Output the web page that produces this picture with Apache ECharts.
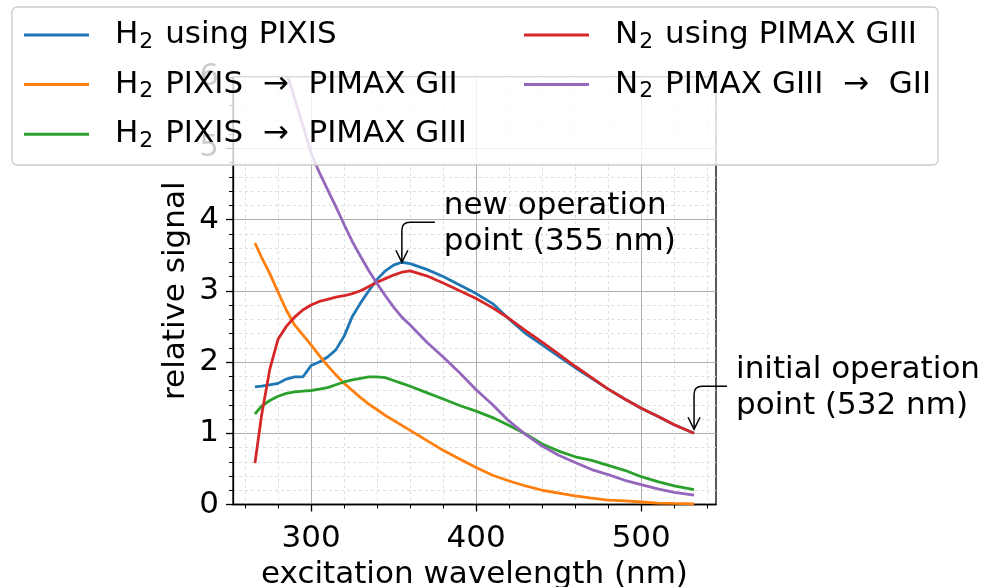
<!DOCTYPE html>
<html>
<head>
<meta charset="utf-8">
<script src="https://cdn.jsdelivr.net/npm/echarts@6/dist/echarts.min.js"></script>
<style>
html,body{margin:0;padding:0;background:#fff;}
#c{width:986px;height:587px;}
</style>
</head>
<body>
<div id="c"></div>
<script>
// ---- data ----
const wavelengths = [266,270,275,280,285,290,295,300,305,310,315,320,325,330,335,340,345,350,355,360,370,380,390,400,410,420,430,440,450,460,470,480,490,500,510,520,532];
const h2UsingPixis = [1.65,1.66,1.68,1.70,1.76,1.79,1.79,1.95,2.00,2.07,2.17,2.36,2.64,2.83,3.00,3.16,3.28,3.36,3.40,3.38,3.30,3.20,3.08,2.96,2.82,2.60,2.40,2.24,2.08,1.92,1.77,1.62,1.48,1.35,1.24,1.12,1.00];
const h2PixisToGII = [3.67,3.47,3.24,2.98,2.73,2.52,2.38,2.24,2.09,1.95,1.82,1.70,1.60,1.50,1.41,1.33,1.25,1.18,1.11,1.04,0.90,0.76,0.64,0.52,0.41,0.33,0.26,0.20,0.16,0.12,0.09,0.06,0.05,0.035,0.02,0.015,0.01];
const h2PixisToGIII = [1.27,1.38,1.46,1.52,1.56,1.58,1.59,1.60,1.62,1.64,1.68,1.72,1.75,1.77,1.79,1.79,1.78,1.74,1.70,1.66,1.57,1.48,1.39,1.31,1.22,1.11,0.99,0.85,0.75,0.67,0.62,0.55,0.48,0.39,0.32,0.26,0.21];
const n2UsingGIII = [0.58,1.25,1.90,2.32,2.50,2.63,2.73,2.80,2.85,2.88,2.91,2.93,2.96,3.00,3.06,3.12,3.17,3.22,3.26,3.28,3.21,3.11,3.00,2.89,2.76,2.61,2.44,2.28,2.11,1.94,1.78,1.62,1.48,1.35,1.24,1.12,1.00];
const n2GIIIToGII = [7.90,7.45,6.95,6.50,6.08,5.70,5.32,4.93,4.66,4.42,4.18,3.93,3.69,3.48,3.28,3.10,2.93,2.77,2.63,2.52,2.28,2.07,1.85,1.61,1.40,1.17,0.98,0.82,0.69,0.59,0.49,0.42,0.34,0.28,0.22,0.17,0.13];

const seriesNames = ['H₂ using PIXIS','H₂ PIXIS  →  PIMAX GII','H₂ PIXIS  →  PIMAX GIII','N₂ using PIMAX GIII','N₂ PIMAX GIII  →  GII'];
const seriesValues = [h2UsingPixis, h2PixisToGII, h2PixisToGIII, n2UsingGIII, n2GIIIToGII];

const xMajorTicks = [300,400,500];
const xMinorTicks = [260,280,320,340,360,380,420,440,460,480,520,540];
const xRange = [252.7, 545.3];
const yRange = [0, 6];

const annotations = [
  {series:0, wavelength:355, text:'new operation\npoint (355 nm)'},
  {series:3, wavelength:532, text:'initial operation\npoint (532 nm)'}
];

// ---- styling ----
const colors = ['#1f77b4','#ff7f0e','#2ca02c','#d62728','#9467bd'];
const FONT = 'DejaVu Sans';
const FS = 31;
const gridBox = {left:233, top:77, width:483, height:427.5, containLabel:false, outerBoundsMode:'none'};

const chart = echarts.init(document.getElementById('c'), null, {renderer:'canvas'});

const legendCommon = {
  orient:'vertical', itemWidth:65, itemHeight:3, itemGap:13.6, icon:'rect',
  selectedMode:false, z:60, padding:0,
  formatter: name => name.replace('₂', '{sub|2}'),
  textStyle:{
    fontFamily:FONT, fontSize:FS, color:'#000', lineHeight:36, padding:[0,0,0,21],
    rich:{ sub:{fontFamily:FONT, fontSize:22, color:'#000', lineHeight:22, verticalAlign:'bottom', padding:[0,2,0,1]} }
  }
};

const option = {
  animation:false,
  textStyle:{fontFamily:FONT},
  grid:[
    Object.assign({show:true, borderColor:'#000', borderWidth:1.3, backgroundColor:'transparent'}, gridBox),
    Object.assign({}, gridBox)
  ],
  xAxis:[
    {
      gridIndex:0, type:'value', min:xRange[0], max:xRange[1],
      name:'excitation wavelength (nm)', nameLocation:'middle', nameGap:55,
      nameTextStyle:{fontFamily:FONT, fontSize:FS, color:'#000'},
      axisLine:{show:true, lineStyle:{color:'#000', width:1.3}},
      axisTick:{show:true, customValues:xMajorTicks, length:7, lineStyle:{color:'#000', width:1.3}},
      axisLabel:{customValues:xMajorTicks, fontFamily:FONT, fontSize:FS, color:'#000', margin:19},
      splitLine:{show:true, lineStyle:{color:'#b0b0b0', width:1}}
    },
    {
      gridIndex:1, type:'value', min:xRange[0], max:xRange[1],
      axisLine:{show:false},
      axisTick:{show:true, customValues:xMinorTicks, length:4, lineStyle:{color:'#000', width:1}},
      axisLabel:{show:false},
      splitLine:{show:true, lineStyle:{color:'#dedede', width:1, type:[3,3]}}
    }
  ],
  yAxis:[
    {
      gridIndex:0, type:'value', min:yRange[0], max:yRange[1], interval:1,
      name:'relative signal', nameLocation:'middle', nameGap:42,
      nameTextStyle:{fontFamily:FONT, fontSize:FS, color:'#000'},
      axisLine:{show:true, lineStyle:{color:'#000', width:1.3}},
      axisTick:{show:true, length:7, lineStyle:{color:'#000', width:1.3}},
      minorTick:{show:true, splitNumber:5, length:4, lineStyle:{color:'#000', width:1}},
      axisLabel:{fontFamily:FONT, fontSize:FS, color:'#000', margin:14},
      splitLine:{show:true, lineStyle:{color:'#b0b0b0', width:1}},
      minorSplitLine:{show:true, lineStyle:{color:'#dedede', width:1, type:[3,3]}}
    },
    {gridIndex:1, type:'value', min:yRange[0], max:yRange[1], show:false}
  ],
  legend:[
    Object.assign({data:seriesNames.slice(0,3), left:24, top:17}, legendCommon),
    Object.assign({data:seriesNames.slice(3), left:524, top:17}, legendCommon)
  ],
  series: seriesNames.map((n,i)=>({
    name:n, type:'line', xAxisIndex:0, yAxisIndex:0,
    data: wavelengths.map((w,k)=>[w, seriesValues[i][k]]),
    symbol:'none', showSymbol:false, clip:true, z:3+i,
    lineStyle:{width:2.8, color:colors[i]}, itemStyle:{color:colors[i]}
  }))
};
chart.setOption(option);

// ---- annotations and legend frame ----
const graphics = [{
  type:'rect', z:50, silent:true,
  shape:{x:12, y:7, width:926, height:158, r:5},
  style:{fill:'rgba(255,255,255,0.8)', stroke:'#cccccc', lineWidth:1.3}
}];
const annOffsets = [{dx:42, dy:-40, shrink:0},{dx:42, dy:-43, shrink:4}];
annotations.forEach((a,i)=>{
  const k = wavelengths.indexOf(a.wavelength);
  const p = chart.convertToPixel({xAxisIndex:0, yAxisIndex:0}, [a.wavelength, seriesValues[a.series][k]]);
  const o = annOffsets[i];
  const tx = p[0], ty = p[1] - o.shrink;
  const cy = ty + o.dy, textX = tx + o.dx;
  const st = {stroke:'#000', lineWidth:1.5, fill:null};
  graphics.push({type:'polyline', z:20, shape:{points:[[textX-9, cy],[tx+8, cy]]}, style:st});
  graphics.push({type:'bezierCurve', z:20, shape:{x1:tx+8, y1:cy, x2:tx, y2:cy+8, cpx1:tx, cpy1:cy}, style:st});
  graphics.push({type:'polyline', z:20, shape:{points:[[tx, cy+8],[tx, ty]]}, style:st});
  graphics.push({type:'polyline', z:20, shape:{points:[[tx-6, ty-12],[tx, ty],[tx+6, ty-12]]}, style:st});
  graphics.push({type:'text', z:20, x:textX, y:cy+2, style:{text:a.text, fontFamily:FONT, fontSize:FS, fill:'#000', align:'left', verticalAlign:'middle', lineHeight:36}});
});
chart.setOption({graphic:graphics});
</script>
</body>
</html>
